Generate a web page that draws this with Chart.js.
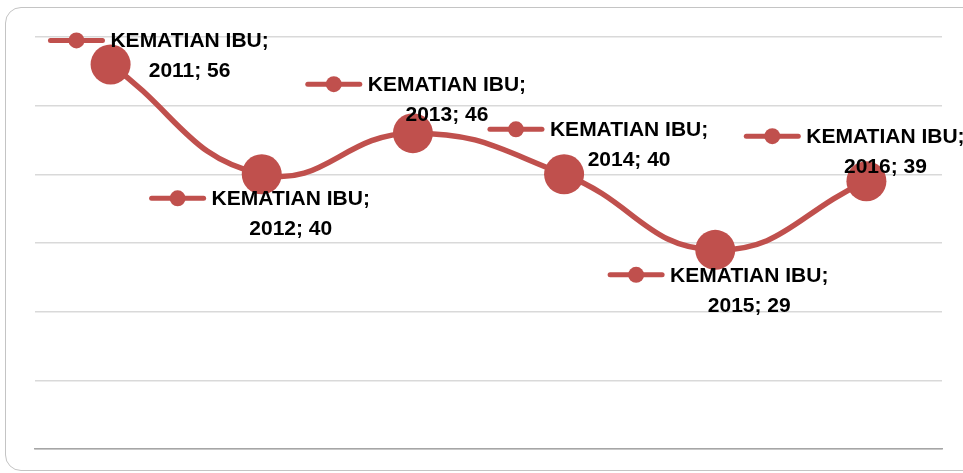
<!DOCTYPE html>
<html>
<head>
<meta charset="utf-8">
<script src="https://cdn.jsdelivr.net/npm/chart.js@4"></script>
<style>
html, body { margin: 0; padding: 0; background: #fff; }
#wrap { position: relative; width: 963px; height: 473px; overflow: hidden; }
#frame { position: absolute; left: 5px; top: 7px; width: 990px; height: 464px; border: 1.5px solid #c4c4c4; border-radius: 16px; box-sizing: border-box; }
canvas { position: absolute; left: 0; top: 0; }
</style>
</head>
<body>
<div id="wrap">
  <div id="frame"></div>
  <canvas id="chart" width="963" height="473"></canvas>
</div>
<script>
const seriesName = 'KEMATIAN IBU';
const years = ['2011', '2012', '2013', '2014', '2015', '2016'];
const deaths = [56, 40, 46, 40, 29, 39];
const yTicks = [0, 10, 20, 30, 40, 50, 60];

// where each data label sits, relative to its point (block centre x, first line y)
const labelDx = [49, -1, 4, 35, 4, -11];
const labelDy = [-24, 24, -49, -45, 25, -45];

const red = '#C0504D';

const dataLabels = {
    id: 'dataLabels',
    afterDatasetsDraw(chart) {
        const ctx = chart.ctx;
        const pts = chart.getDatasetMeta(0).data;
        ctx.save();
        ctx.font = 'bold 21px "Liberation Sans", Arial, sans-serif';
        ctx.textBaseline = 'middle';
        pts.forEach((p, i) => {
            const line1 = seriesName + ';';
            const line2 = years[i] + '; ' + deaths[i];
            const w = ctx.measureText(line1).width;
            const keyW = 52, gap = 8;
            const total = keyW + gap + w;
            const left = p.x + labelDx[i] - total / 2;
            const y1 = p.y + labelDy[i];
            // legend key
            ctx.strokeStyle = red;
            ctx.lineWidth = 5;
            ctx.lineCap = 'round';
            ctx.beginPath();
            ctx.moveTo(left, y1);
            ctx.lineTo(left + keyW, y1);
            ctx.stroke();
            ctx.fillStyle = red;
            ctx.beginPath();
            ctx.arc(left + keyW / 2, y1, 8, 0, Math.PI * 2);
            ctx.fill();
            // text
            ctx.fillStyle = '#000';
            ctx.textAlign = 'left';
            ctx.fillText(line1, left + keyW + gap, y1 + 1);
            ctx.textAlign = 'center';
            ctx.fillText(line2, left + keyW + gap + w / 2, y1 + 31);
        });
        ctx.restore();
    }
};

new Chart(document.getElementById('chart').getContext('2d'), {
    type: 'line',
    data: {
        labels: years,
        datasets: [{
            label: seriesName,
            data: deaths,
            borderColor: red,
            backgroundColor: red,
            borderWidth: 5.5,
            tension: 0.45,
            pointRadius: 20,
            pointHoverRadius: 20,
            pointBackgroundColor: red,
            pointBorderWidth: 0,
            clip: false
        }]
    },
    options: {
        responsive: false,
        animation: false,
        layout: { padding: { left: 35, right: 21, top: 37, bottom: 16 } },
        plugins: {
            legend: { display: false },
            tooltip: { enabled: false }
        },
        scales: {
            x: {
                offset: true,
                grid: { display: false },
                ticks: { display: false },
                border: { display: true, color: '#a6a6a6', width: 1.5 }
            },
            y: {
                min: yTicks[0],
                max: yTicks[yTicks.length - 1],
                afterBuildTicks(axis) { axis.ticks = yTicks.map(v => ({ value: v })); },
                grid: { color: '#d9d9d9', lineWidth: 1.5, drawTicks: false },
                ticks: { display: false },
                border: { display: false }
            }
        }
    },
    plugins: [dataLabels]
});
</script>
</body>
</html>
